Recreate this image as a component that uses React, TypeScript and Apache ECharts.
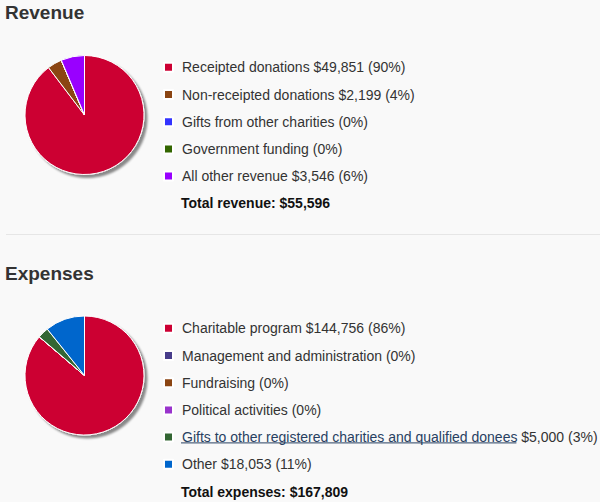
import React, { useEffect, useRef } from "react";
import * as echarts from "echarts";

const revenueNames = [
  "Receipted donations",
  "Non-receipted donations",
  "Gifts from other charities",
  "Government funding",
  "All other revenue",
];
const revenueValues = [49851, 2199, 0, 0, 3546];
const revenueColors = ["#cc0033", "#8b4513", "#3333ff", "#336600", "#9900ff"];

const expenseNames = [
  "Charitable program",
  "Management and administration",
  "Fundraising",
  "Political activities",
  "Gifts to other registered charities and qualified donees",
  "Other",
];
const expenseValues = [144756, 0, 0, 0, 5000, 18053];
const expenseColors = ["#cc0033", "#483d8b", "#8b4513", "#9933cc", "#336633", "#0066cc"];
const linkName = "Gifts to other registered charities and qualified donees";

const FONT = "'Liberation Sans', Arial, Helvetica, sans-serif";
const TEXT = "#333333";
const LINK = "#284162";

function fmtMoney(v: number) {
  return "$" + v.toLocaleString("en-US");
}

function measure(text: string, font: string) {
  const c = document.createElement("canvas");
  const ctx = c.getContext("2d")!;
  ctx.font = font;
  return ctx.measureText(text).width;
}

export default function App() {
  const ref = useRef<HTMLDivElement>(null);
  useEffect(() => {
    const chart = echarts.init(ref.current!, null, { renderer: "svg" });
    const revTotal = revenueValues.reduce((a, b) => a + b, 0);
    const expTotal = expenseValues.reduce((a, b) => a + b, 0);

    const label = (names: string[], values: number[], total: number) => (name: string) => {
      const i = names.indexOf(name);
      const v = values[i];
      const pct = Math.round((v / total) * 100);
      const tail = (v > 0 ? " " + fmtMoney(v) : "") + " (" + pct + "%)";
      if (name === linkName) return "{link|" + name + "}{t|" + tail + "}";
      return "{t|" + name + tail + "}";
    };

    const mkData = (names: string[], values: number[], colors: string[]) =>
      names.map((n, i) => ({
        name: n,
        value: values[i],
        itemStyle:
          i === 0
            ? {
                color: colors[i],
                shadowBlur: 2,
                shadowOffsetX: 3,
                shadowOffsetY: 3,
                shadowColor: "rgba(0,0,0,0.45)",
              }
            : { color: colors[i] },
      }));

    const rich = {
      t: { fontSize: 14, lineHeight: 14, color: TEXT, fontFamily: FONT },
      link: { fontSize: 14, lineHeight: 14, color: LINK, fontFamily: FONT },
    };

    const legendBase = {
      orient: "vertical" as const,
      left: 163,
      padding: 0,
      itemWidth: 9,
      itemHeight: 9,
      itemGap: 13.2,
      icon: "rect",
      selectedMode: false,
      textStyle: { fontSize: 14, lineHeight: 14, color: TEXT, fontFamily: FONT, padding: [0, 0, 0, 4], rich },
    };

    const pitch = 27.2;
    const revTop = 67.3;
    const expTop = 328.3;
    const linkIdx = expenseNames.indexOf(linkName);
    const linkW = measure(linkName, "14px " + FONT);
    const linkY = expTop + linkIdx * pitch + 5.8;

    chart.setOption({
      animation: false,
      backgroundColor: "#f9f9f9",
      legend: [
        {
          ...legendBase,
          top: revTop - 7,
          data: revenueNames,
          formatter: label(revenueNames, revenueValues, revTotal),
        },
        {
          ...legendBase,
          top: expTop - 7,
          data: expenseNames,
          formatter: label(expenseNames, expenseValues, expTotal),
        },
      ],
      series: [
        {
          type: "pie",
          center: [84.5, 115],
          radius: 59.5,
          startAngle: 90,
          clockwise: true,
          label: { show: false },
          labelLine: { show: false },
          emphasis: { disabled: true },
          silent: true,
          itemStyle: { borderColor: "#ffffff", borderWidth: 1 },
          data: mkData(revenueNames, revenueValues, revenueColors),
        },
        {
          type: "pie",
          center: [84.5, 375.5],
          radius: 59.5,
          startAngle: 90,
          clockwise: true,
          label: { show: false },
          labelLine: { show: false },
          emphasis: { disabled: true },
          silent: true,
          itemStyle: { borderColor: "#ffffff", borderWidth: 1 },
          data: mkData(expenseNames, expenseValues, expenseColors),
        },
      ],
      graphic: [
        {
          type: "text",
          x: 5,
          y: 12.9,
          style: { text: "Revenue", font: "bold 19px " + FONT, fill: TEXT, verticalAlign: "middle" },
        },
        {
          type: "text",
          x: 5,
          y: 273.4,
          style: { text: "Expenses", font: "bold 19px " + FONT, fill: TEXT, verticalAlign: "middle" },
        },
        {
          type: "line",
          shape: { x1: 6, y1: 234.5, x2: 600, y2: 234.5 },
          style: { stroke: "#e6e6e6", lineWidth: 1 },
        },
        {
          type: "text",
          x: 181,
          y: revTop + revenueNames.length * pitch,
          style: {
            text: "Total revenue: " + fmtMoney(revTotal),
            font: "bold 14px " + FONT,
            fill: "#111111",
            verticalAlign: "middle",
          },
        },
        {
          type: "text",
          x: 181,
          y: expTop + expenseNames.length * pitch,
          style: {
            text: "Total expenses: " + fmtMoney(expTotal),
            font: "bold 14px " + FONT,
            fill: "#111111",
            verticalAlign: "middle",
          },
        },
        {
          type: "line",
          shape: { x1: 181, y1: linkY, x2: 181 + linkW, y2: linkY },
          style: { stroke: LINK, lineWidth: 1 },
        },
      ],
    });
    return () => chart.dispose();
  }, []);
  return (
    <div
      ref={ref}
      style={{ position: "absolute", left: 0, top: 0, width: 600, height: 502 }}
    />
  );
}
